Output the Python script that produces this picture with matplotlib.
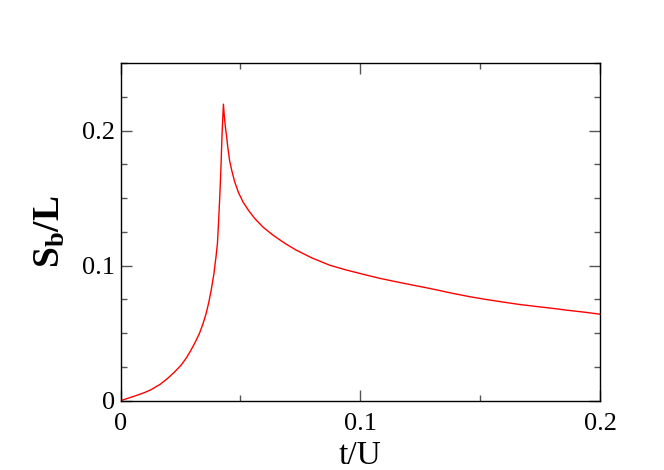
import matplotlib
matplotlib.use("Agg")
import matplotlib.pyplot as plt
from matplotlib.ticker import MultipleLocator

# data
t_U = [0.0, 0.0052, 0.0072, 0.0100, 0.0128, 0.0166, 0.0197, 0.0225, 0.0253, 0.0275,
       0.0294, 0.0312, 0.0329, 0.0344, 0.0357, 0.0368, 0.0378, 0.0389, 0.0398, 0.0404,
       0.0409, 0.0414, 0.0419, 0.0423, 0.0426, 0.0429,
       0.0433, 0.0437, 0.0442, 0.0448, 0.0455, 0.0465, 0.0476, 0.0492, 0.0511, 0.0535,
       0.0560, 0.0594, 0.0636, 0.0685, 0.0733, 0.0800, 0.0872, 0.0940, 0.1011, 0.1080,
       0.1150, 0.1220, 0.1289, 0.1386, 0.1455, 0.1525, 0.1595, 0.1664, 0.1735, 0.1803,
       0.1870, 0.1935, 0.2000]
Sb_L = [0.0, 0.0030, 0.0042, 0.0060, 0.0082, 0.0122, 0.0166, 0.0212, 0.0264, 0.0318,
        0.0375, 0.0435, 0.0498, 0.0570, 0.0646, 0.0728, 0.0818, 0.0935, 0.1064, 0.1163,
        0.1330, 0.1520, 0.1740, 0.1960, 0.2080, 0.2195,
        0.2100, 0.2030, 0.1960, 0.1865, 0.1775, 0.1695, 0.1620, 0.1540, 0.1470, 0.1405,
        0.1348, 0.1285, 0.1225, 0.1165, 0.1114, 0.1055, 0.1003, 0.0968, 0.0936, 0.0906,
        0.0880, 0.0855, 0.0831, 0.0794, 0.0770, 0.0749, 0.0730, 0.0712, 0.0697, 0.0683,
        0.0668, 0.0655, 0.0640]

x_major = [0.0, 0.1, 0.2]
y_major = [0.0, 0.1, 0.2]
tick_text = ['0', '0.1', '0.2']

plt.rcParams['font.family'] = ['Liberation Serif', 'DejaVu Serif']
plt.rcParams['mathtext.fontset'] = 'custom'
plt.rcParams['mathtext.rm'] = 'Liberation Serif'
plt.rcParams['mathtext.bf'] = 'Liberation Serif:bold'

fig = plt.figure(figsize=(6.64, 4.70), dpi=100)
ax = fig.add_axes([0.1815, 0.1475, 0.7225, 0.7185])

ax.plot(t_U, Sb_L, color='red', lw=1.0)

ax.set_xlim(0, 0.2)
ax.set_ylim(0, 0.25)
ax.set_xticks(x_major)
ax.set_yticks(y_major)
ax.xaxis.set_minor_locator(MultipleLocator(0.05))
ax.yaxis.set_minor_locator(MultipleLocator(0.025))
ax.set_xticklabels(tick_text)
ax.set_yticklabels(tick_text)

ax.tick_params(which='both', direction='in', top=True, right=True,
               labelsize=19, color='#555555', width=1.0)
ax.tick_params(which='major', length=8)
ax.tick_params(which='minor', length=4)
ax.tick_params(axis='x', which='major', pad=9)
ax.tick_params(axis='y', which='major', pad=4)
for s in ax.spines.values():
    s.set_linewidth(1.0)

ax.set_xlabel('t/U', fontsize=24, labelpad=4)
ax.set_ylabel(r'$\mathbf{S_b/L}$', fontsize=27, labelpad=10)

fig.savefig('out.png', dpi=100)
